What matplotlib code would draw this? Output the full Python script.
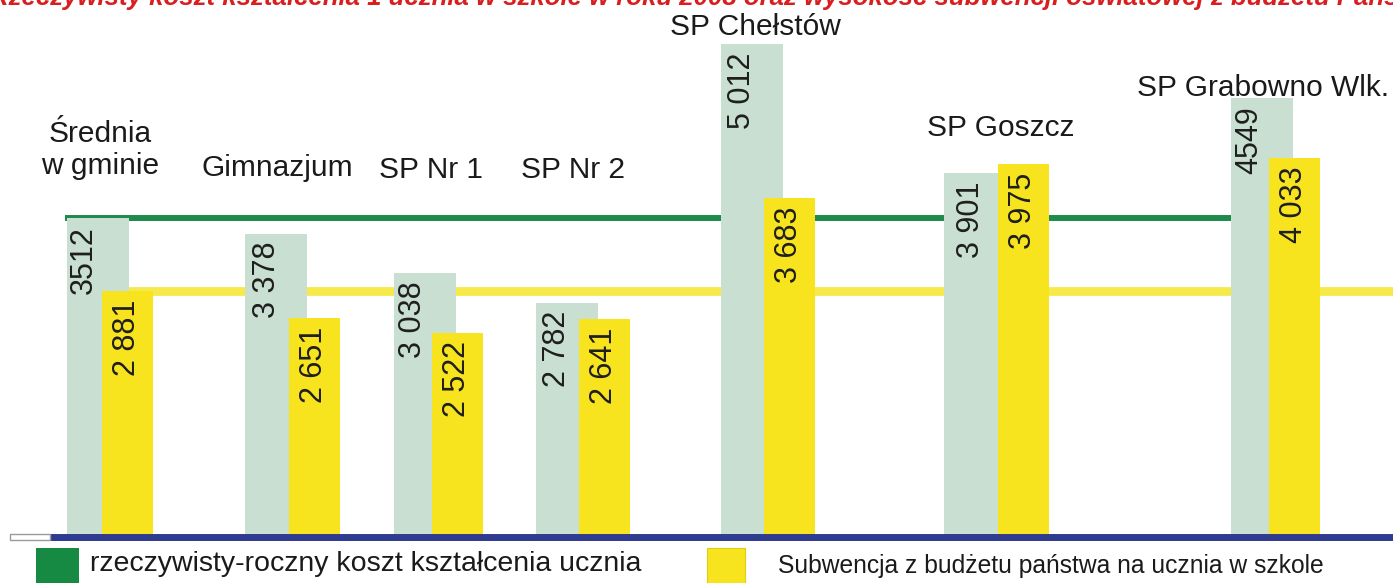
import matplotlib.pyplot as plt
from matplotlib.patches import Rectangle

# --- Data ---
groups = ["Średnia\nw gminie", "Gimnazjum", "SP Nr 1", "SP Nr 2",
          "SP Chełstów", "SP Goszcz", "SP Grabowno Wlk."]
koszt = [3512, 3378, 3038, 2782, 5012, 3901, 4549]
koszt_txt = ["3512", "3 378", "3 038", "2 782", "5 012", "3 901", "4549"]
subwencja = [2881, 2651, 2522, 2641, 3683, 3975, 4033]
subwencja_txt = ["2 881", "2 651", "2 522", "2 641", "3 683", "3 975", "4 033"]
legend_labels = ["rzeczywisty-roczny koszt kształcenia ucznia",
                 "Subwencja z budżetu państwa na ucznia w szkole"]
title = ("Rzeczywisty koszt kształcenia 1 ucznia w szkole w roku 2008 "
         "oraz wysokość subwencji oświatowej z budżetu Państwa")

# --- Layout (pixels) ---
W, H = 1393, 583
green_x = [98, 276, 425, 567, 752, 975, 1262]       # green bar centres
yellow_dx = [29, 38, 32, 37, 37, 48, 32]            # yellow offset from green
label_xy = [(100, 150), (277, 168), (431, 170), (573, 170),
            (755, 27), (1001, 128), (1263, 88)]
V_BASE, V_TOP = 763, 5392                           # value at baseline / top edge

GREEN_BAR = "#c9dfd2"
YELLOW = "#f8e41e"
GREEN_LINE = "#1f8a4c"
YELLOW_LINE = "#f6e94a"
BLUE = "#2e3b8e"

plt.rcParams['font.family'] = ['Liberation Sans', 'DejaVu Sans']

fig = plt.figure(figsize=(W / 100, H / 100), dpi=100)
ax = fig.add_axes([0, 46 / H, 1, 1 - 46 / H])
ax.set_xlim(0, W)
ax.set_ylim(V_BASE, V_TOP)
ax.axis("off")


def fx(x):
    return x / W


def fy(y):
    return 1 - y / H


# reference lines (behind bars)
ax.plot([65, green_x[-1] - 30], [koszt[0]] * 2, color=GREEN_LINE,
        linewidth=4.3, solid_capstyle="butt", zorder=1)
ax.plot([green_x[0] + yellow_dx[0], W], [subwencja[0]] * 2, color=YELLOW_LINE,
        linewidth=6.3, solid_capstyle="butt", zorder=1)

for i in range(len(groups)):
    gx = green_x[i]
    yx = gx + yellow_dx[i]
    ax.bar(gx, koszt[i] - V_BASE, bottom=V_BASE, width=62,
           color=GREEN_BAR, zorder=2)
    ax.bar(yx, subwencja[i] - V_BASE, bottom=V_BASE, width=51,
           color=YELLOW, zorder=3)

    # value labels, rotated, near top of each bar
    vis_centre = (gx - 31 + yx - 25.5) / 2
    ax.annotate(koszt_txt[i], (vis_centre, koszt[i]), xytext=(0, -6),
                textcoords="offset points", rotation=90, ha="center",
                va="top", fontsize=22, color="#1e1e1e", zorder=5)
    ax.annotate(subwencja_txt[i], (yx, subwencja[i]), xytext=(0, -6),
                textcoords="offset points", rotation=90, ha="center",
                va="top", fontsize=22, color="#1e1e1e", zorder=5)

    lx, ly = label_xy[i]
    fig.text(fx(lx), fy(ly), groups[i], ha="center", va="center",
             fontsize=21.5, color="#1a1a1a", linespacing=1.15)

# baseline
ax.plot([50, W], [V_BASE, V_BASE], color=BLUE, linewidth=5,
        solid_capstyle="butt", clip_on=False, zorder=4)
fig.patches.append(Rectangle((fx(10), fy(540)), fx(40), 6 / H,
                             transform=fig.transFigure, facecolor="white",
                             edgecolor="#9a9a9a", linewidth=1))

# legend
fig.patches.append(Rectangle((fx(36), fy(583)), fx(43), 35 / H,
                             transform=fig.transFigure, facecolor="#168a43",
                             edgecolor="none"))
fig.text(fx(90), fy(564), legend_labels[0], ha="left", va="center",
         fontsize=20.5, color="#1a1a1a")
fig.patches.append(Rectangle((fx(707), fy(583)), fx(38), 35 / H,
                             transform=fig.transFigure, facecolor=YELLOW,
                             edgecolor="#e0cc10", linewidth=0.8))
fig.text(fx(778), fy(566), legend_labels[1], ha="left", va="center",
         fontsize=17.7, color="#1a1a1a")

# red title, cut off by the top edge as in the scanned original
fig.text(fx(-10), fy(5), title, ha="left", va="baseline", fontsize=18.5,
         fontweight="bold", fontstyle="italic", color="#d81e1e")

fig.savefig("out.png", dpi=100)
